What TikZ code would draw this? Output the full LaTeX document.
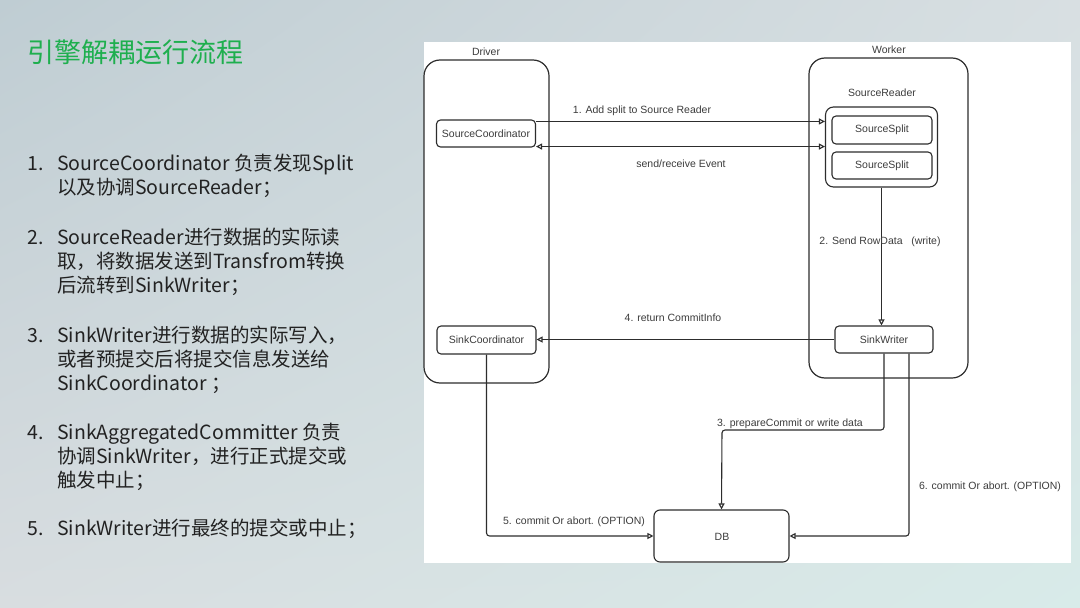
\documentclass[tikz,border=0pt]{standalone}
\usepackage{fontspec}
\setmainfont{Noto Sans CJK SC}
\newfontfamily\diagfont{Liberation Sans}
\usetikzlibrary{arrows.meta,calc,shadings}
\definecolor{bgtl}{RGB}{191,205,211}
\definecolor{bgtr}{RGB}{216,223,226}
\definecolor{bgbl}{RGB}{216,221,224}
\definecolor{bgbr}{RGB}{216,235,233}
\definecolor{titlegreen}{RGB}{30,175,78}
\definecolor{bodytext}{RGB}{34,34,34}
\definecolor{linecol}{RGB}{45,45,45}
\definecolor{labelcol}{RGB}{60,60,60}
\tikzset{
  bodyline/.style={anchor=base west,inner sep=0pt,font=\fontsize{19.5}{22}\selectfont,text=bodytext},
  numline/.style={anchor=base west,inner sep=0pt,font=\fontsize{19.5}{22}\selectfont,text=bodytext},
  dlabel/.style={inner sep=0pt,font=\diagfont\fontsize{10.5}{12}\selectfont,text=labelcol},
  container/.style={draw=linecol,line width=1.2pt,rounded corners=16pt,fill=white},
  compbox/.style={draw=linecol,line width=1.1pt,rounded corners=4pt,fill=white,inner sep=0pt,font=\diagfont\fontsize{10.5}{12}\selectfont,text=labelcol},
  conn/.style={draw=linecol,line width=1.1pt,rounded corners=3pt},
  arr/.style={conn,-{Triangle[open,length=6pt,width=6pt]}},
  darr/.style={conn,{Triangle[open,length=6pt,width=6pt]}-{Triangle[open,length=6pt,width=6pt]}},
}
\begin{document}
\begin{tikzpicture}[x=1pt,y=-1pt]
% background
\shade[upper left=bgtl,upper right=bgtr,lower left=bgbl,lower right=bgbr] (0,0) rectangle (1080,608);
\useasboundingbox (0,0) rectangle (1080,608);
% white panel
\fill[white] (424,42) rectangle (1071,563);

% title
\node[anchor=base west,inner sep=0pt,font=\fontsize{27}{30}\selectfont,text=titlegreen] (title) at (27,62) {引擎解耦运行流程};

% list
\node[numline] (n1) at (27,170) {1.};
\node[bodyline] (t1a) at (57,170) {SourceCoordinator 负责发现Split};
\node[bodyline] (t1b) at (57,194) {以及协调SourceReader；};
\node[numline] (n2) at (27,244) {2.};
\node[bodyline] (t2a) at (57,244) {SourceReader进行数据的实际读};
\node[bodyline] (t2b) at (57,268) {取，将数据发送到Transfrom转换};
\node[bodyline] (t2c) at (57,292) {后流转到SinkWriter；};
\node[numline] (n3) at (27,342) {3.};
\node[bodyline] (t3a) at (57,342) {SinkWriter进行数据的实际写入，};
\node[bodyline] (t3b) at (57,366) {或者预提交后将提交信息发送给};
\node[bodyline] (t3c) at (57,390) {SinkCoordinator ；};
\node[numline] (n4) at (27,439) {4.};
\node[bodyline] (t4a) at (57,439) {SinkAggregatedCommitter 负责};
\node[bodyline] (t4b) at (57,463) {协调SinkWriter，进行正式提交或};
\node[bodyline] (t4c) at (57,487) {触发中止；};
\node[numline] (n5) at (27,535) {5.};
\node[bodyline] (t5a) at (57,535) {SinkWriter进行最终的提交或中止；};

% containers
\node[container,minimum width=125pt,minimum height=323pt] (driver) at (486.5,221.5) {};
\node[container,minimum width=159pt,minimum height=320pt] (worker) at (888.5,218) {};
\node[dlabel] (driverlbl) at (486,52) {Driver};
\node[dlabel] (workerlbl) at (889,50) {Worker};

% components
\node[compbox,minimum width=99pt,minimum height=27pt] (srccoord) at (486,133.5) {SourceCoordinator};
\node[compbox,minimum width=99pt,minimum height=28pt] (sinkcoord) at (486.5,340) {SinkCoordinator};
\node[dlabel] (readerlbl) at (882,93) {SourceReader};
\node[compbox,rounded corners=8pt,minimum width=112pt,minimum height=80pt] (reader) at (881.5,147) {};
\node[compbox,minimum width=100pt,minimum height=28pt] (split1) at (882,130) {SourceSplit};
\node[compbox,minimum width=100pt,minimum height=27pt] (split2) at (882,165.5) {SourceSplit};
\node[compbox,minimum width=98pt,minimum height=27pt] (sinkwriter) at (884,339.5) {SinkWriter};
\node[compbox,rounded corners=6pt,minimum width=135pt,minimum height=52pt] (db) at (721.5,536) {};
\node[dlabel] (dblbl) at (722,537) {DB};

% connectors
\draw[arr] ([yshift=-2pt]srccoord.north east) -- ([yshift=-2pt]srccoord.north east -| reader.west);
\draw[darr] ([yshift=1pt]srccoord.south east) -- ([yshift=1pt]srccoord.south east -| reader.west);
\draw[arr] (reader.south) -- (reader.south |- sinkwriter.north);
\draw[arr] (sinkwriter.west) -- (sinkwriter.west -| sinkcoord.east);
\coordinate (j3) at (722,430);
\draw[arr] (sinkwriter.south) |- (j3) -- (db.north);
\draw[arr] ([xshift=25pt]sinkwriter.south) |- (db.east);
\draw[arr] (sinkcoord.south) |- (db.west);

% connector labels
\node[dlabel] (l1) at (642,111) {1. Add split to Source Reader};
\node[dlabel] (lev) at (681,164) {send/receive Event};
\node[dlabel] (l2) at (880,242) {2. Send RowData\ \ \ (write)};
\node[dlabel] (l4) at (673,318) {4. return CommitInfo};
\node[dlabel] (l3) at (790,424) {3. prepareCommit or write data};
\node[dlabel] (l6) at (990,487) {6. commit Or abort. (OPTION)};
\node[dlabel] (l5) at (574,522) {5. commit Or abort. (OPTION)};
\end{tikzpicture}
\end{document}
